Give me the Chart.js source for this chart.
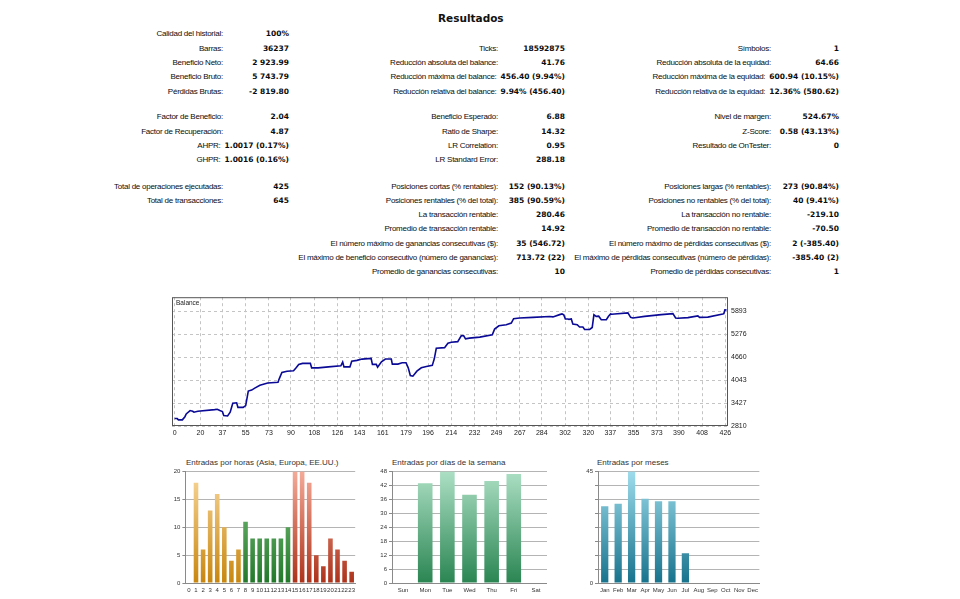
<!DOCTYPE html>
<html>
<head>
<meta charset="utf-8">
<script src="https://cdn.jsdelivr.net/npm/chart.js@4.4.1/dist/chart.umd.min.js"></script>
<style>
  body { margin: 0; width: 960px; height: 599px; overflow: hidden; position: relative; background: #fff; color: #111;
         font-family: "Liberation Sans", Arial, sans-serif; }
  #title { position: absolute; left: 438px; top: 12px; font: bold 10.5px "DejaVu Sans", sans-serif; }
  .col { position: absolute; top: 27.4px; }
  .row { height: 14.3px; line-height: 14.3px; text-align: right; white-space: nowrap; font-size: 8px; letter-spacing: -0.25px; color: #0c0c0c; }
  .gap1 { height: 11.5px; }
  .gap2 { height: 12px; }
  .row b { display: inline-block; text-align: right; margin-left: 4px; font: bold 7.5px "DejaVu Sans", sans-serif; letter-spacing: 0; }
  canvas { position: absolute; }
  .ctitle { position: absolute; top: 458px; font-size: 8px; color: #333; white-space: nowrap; }
  #balLabel { position: absolute; left: 176px; top: 299px; font-size: 6.5px; color: #222; }
</style>
</head>
<body>
<div id="title">Resultados</div>
<div class="col" id="c1" style="right:671px"></div>
<div class="col" id="c2" style="right:395px"></div>
<div class="col" id="c3" style="right:121px"></div>

<canvas id="bal" width="592" height="150" style="left:164px;top:290px"></canvas>
<div id="balLabel">Balance</div>

<div class="ctitle" style="left:186px">Entradas por horas (Asia, Europa, EE.UU.)</div>
<canvas id="hours" width="194" height="131" style="left:165px;top:466px"></canvas>
<div class="ctitle" style="left:392px">Entradas por días de la semana</div>
<canvas id="days" width="172" height="131" style="left:375px;top:466px"></canvas>
<div class="ctitle" style="left:597px">Entradas por meses</div>
<canvas id="months" width="197" height="131" style="left:565px;top:466px"></canvas>

<script>
// stats columns, null = empty row, "|" = block gap
const statsCol1 = [
  ["Calidad del historial:", "100%"], ["Barras:", "36237"], ["Beneficio Neto:", "2 923.99"],
  ["Beneficio Bruto:", "5 743.79"], ["Pérdidas Brutas:", "-2 819.80"], "|",
  ["Factor de Beneficio:", "2.04"], ["Factor de Recuperación:", "4.87"],
  ["AHPR:", "1.0017 (0.17%)"], ["GHPR:", "1.0016 (0.16%)"], "||",
  ["Total de operaciones ejecutadas:", "425"], ["Total de transacciones:", "645"],
];
const statsCol2 = [
  null, ["Ticks:", "18592875"], ["Reducción absoluta del balance:", "41.76"],
  ["Reducción máxima del balance:", "456.40 (9.94%)"], ["Reducción relativa del balance:", "9.94% (456.40)"], "|",
  ["Beneficio Esperado:", "6.88"], ["Ratio de Sharpe:", "14.32"],
  ["LR Correlation:", "0.95"], ["LR Standard Error:", "288.18"], "||",
  ["Posiciones cortas (% rentables):", "152 (90.13%)"], ["Posiciones rentables (% del total):", "385 (90.59%)"],
  ["La transacción rentable:", "280.46"], ["Promedio de transacción rentable:", "14.92"],
  ["El número máximo de ganancias consecutivas ($):", "35 (546.72)"],
  ["El máximo de beneficio consecutivo (número de ganancias):", "713.72 (22)"],
  ["Promedio de ganancias consecutivas:", "10"],
];
const statsCol3 = [
  null, ["Símbolos:", "1"], ["Reducción absoluta de la equidad:", "64.66"],
  ["Reducción máxima de la equidad:", "600.94 (10.15%)"], ["Reducción relativa de la equidad:", "12.36% (580.62)"], "|",
  ["Nivel de margen:", "524.67%"], ["Z-Score:", "0.58 (43.13%)"],
  ["Resultado de OnTester:", "0"], null, "||",
  ["Posiciones largas (% rentables):", "273 (90.84%)"], ["Posiciones no rentables (% del total):", "40 (9.41%)"],
  ["La transacción no rentable:", "-219.10"], ["Promedio de transacción no rentable:", "-70.50"],
  ["El número máximo de pérdidas consecutivas ($):", "2 (-385.40)"],
  ["El máximo de pérdidas consecutivas (número de pérdidas):", "-385.40 (2)"],
  ["Promedio de pérdidas consecutivas:", "1"],
];

// balance curve at its breakpoints
const balanceX = [0, 2, 3, 6, 8, 9, 12, 14, 15, 18, 31, 33, 35, 37, 38, 41, 43, 45, 48, 49, 53, 55, 57, 59.6, 62, 66, 72, 80,
  81, 83, 87, 92, 94, 96, 99, 105, 106, 111, 119, 128.6, 130, 131, 135.6, 137, 141, 145, 152, 153, 156, 157, 160, 163,
  167.6, 168.4, 172.7, 176, 179, 180.7, 182.3, 184.3, 187.4, 190.8, 194.7, 199.3, 200.8, 202.4, 208.8, 211.4, 214, 219,
  221.7, 223.5, 225, 228, 236, 245.7, 247.5, 250.8, 256.5, 260.4, 262.2, 266.8, 277, 290, 292.6, 297.8, 299.6, 301,
  302.2, 304, 305, 306.8, 308, 311.4, 313.2, 315.8, 317.1, 321, 323, 324.3, 326, 328, 330, 333.9, 335.6, 337.2, 338.2,
  340.3, 350.6, 352.7, 354.5, 363.5, 376.4, 385.4, 387.5, 389.2, 397, 404.7, 406, 412.4, 424, 424.8, 425.6, 426.9];
const balanceY = [3010, 3010, 2975, 2975, 3060, 3135, 3225, 3205, 3180, 3205, 3250, 3260, 3225, 3200, 3090, 3080, 3180, 3420,
  3435, 3310, 3310, 3360, 3750, 3777, 3830, 3905, 3965, 3985, 4085, 4250, 4285, 4295, 4375, 4465, 4495, 4495, 4375, 4375,
  4400, 4430, 4530, 4400, 4400, 4555, 4575, 4610, 4630, 4467, 4467, 4393, 4538, 4611, 4611, 4475, 4475, 4511, 4511, 4375,
  4168, 4150, 4285, 4375, 4412, 4440, 4611, 4901, 4918, 5037, 5064, 5080, 5235, 5243, 5154, 5173, 5200, 5262, 5417, 5507,
  5534, 5580, 5697, 5716, 5732, 5755, 5745, 5806, 5825, 5800, 5689, 5690, 5680, 5690, 5553, 5534, 5472, 5472, 5407, 5407,
  5461, 5806, 5760, 5765, 5670, 5670, 5760, 5825, 5815, 5825, 5852, 5732, 5716, 5760, 5806, 5833, 5716, 5710, 5725, 5770,
  5732, 5740, 5825, 5835, 5935, 5930];
const balanceXTicks = [0, 20, 37, 55, 73, 90, 108, 126, 143, 161, 179, 196, 214, 232, 249, 267, 284, 302, 320, 337, 355, 373, 390, 408, 426];
const balanceYTicks = [2810, 3427, 4043, 4660, 5276, 5893];

const hourLabels = ["0","1","2","3","4","5","6","7","8","9","10","11","12","13","14","15","16","17","18","19","20","21","22","23"];
const hourEntries = [0, 18, 6, 13, 16, 10, 4, 6, 11, 8, 8, 8, 8, 8, 10, 20, 20, 18, 5, 3, 8, 6, 4, 2];
const hourTicks = [0, 5, 10, 15, 20];

const dayLabels = ["Sun", "Mon", "Tue", "Wed", "Thu", "Fri", "Sat"];
const dayEntries = [0, 43, 48, 38, 44, 47, 0];
const dayTicks = [0, 6, 12, 18, 24, 30, 36, 42, 48];

const monthLabels = ["Jan", "Feb", "Mar", "Apr", "May", "Jun", "Jul", "Aug", "Sep", "Oct", "Nov", "Dec"];
const monthEntries = [31, 32, 45, 34, 33, 33, 12, 0, 0, 0, 0, 0];
const monthTicks = [0, 5.625, 11.25, 16.875, 22.5, 28.125, 33.75, 39.375, 45];
const monthShown = [0, 45];

function fillCol(id, rows) {
  const col = document.getElementById(id);
  const minW = { c1: 62, c2: 63, c3: 64 }[id];
  rows.forEach((r) => {
    const d = document.createElement("div");
    if (r === "|") d.className = "gap1";
    else if (r === "||") d.className = "gap2";
    else {
      d.className = "row";
      if (r) d.innerHTML = `${r[0]}<b style="min-width:${minW}px">${r[1]}</b>`;
    }
    col.appendChild(d);
  });
}
fillCol("c1", statsCol1);
fillCol("c2", statsCol2);
fillCol("c3", statsCol3);

const frame = {
  id: "frame",
  afterDraw(chart) {
    const a = chart.chartArea, ctx = chart.ctx;
    ctx.save();
    ctx.strokeStyle = "#555";
    ctx.lineWidth = 1;
    ctx.strokeRect(a.left + 0.5, a.top + 0.5, a.right - a.left - 1, a.bottom - a.top - 1);
    ctx.restore();
  },
};

const tickFont = { family: "Liberation Sans", size: 7 };

new Chart(document.getElementById("bal"), {
  type: "line",
  data: {
    datasets: [{
      data: balanceX.map((x, i) => ({ x, y: balanceY[i] })),
      borderColor: "#0a0a96",
      borderWidth: 1.6,
      pointRadius: 0,
      tension: 0,
    }],
  },
  options: {
    responsive: false,
    animation: false,
    layout: { padding: { left: 8, top: 4, right: 0, bottom: 0 } },
    plugins: { legend: { display: false }, tooltip: { enabled: false } },
    scales: {
      x: {
        type: "linear", min: -2, max: 428,
        afterBuildTicks: (s) => { s.ticks = balanceXTicks.map((v) => ({ value: v })); },
        afterFit: (s) => { s.height = 14; },
        ticks: { font: tickFont, color: "#222", padding: 3, maxRotation: 0, autoSkip: false, callback: (v) => String(v) },
        grid: { color: "#c4c4c4", drawTicks: false },
        border: { display: false, dash: [3, 3] },
      },
      y: {
        position: "right", min: 2810, max: 6275,
        afterBuildTicks: (s) => { s.ticks = balanceYTicks.map((v) => ({ value: v })); },
        afterFit: (s) => { s.width = 28; },
        ticks: { font: tickFont, color: "#222", padding: 3, callback: (v) => String(v) },
        grid: { color: "#c4c4c4", drawTicks: false },
        border: { display: false, dash: [3, 3] },
      },
    },
  },
  plugins: [frame],
});

function grad(top, bottom) {
  return (c) => {
    const a = c.chart.chartArea;
    if (!a) return bottom;
    const g = c.chart.ctx.createLinearGradient(0, a.top, 0, a.bottom);
    g.addColorStop(0, top);
    g.addColorStop(1, bottom);
    return g;
  };
}

function barChart(id, labels, data, colors, yMax, ticks, axisW, barPct, shown) {
  return new Chart(document.getElementById(id), {
    type: "bar",
    data: { labels, datasets: [{ data, backgroundColor: colors, barPercentage: barPct, categoryPercentage: 1 }] },
    options: {
      responsive: false,
      animation: false,
      layout: { padding: { top: 5, left: 0, right: 0, bottom: 0 } },
      plugins: { legend: { display: false }, tooltip: { enabled: false } },
      scales: {
        x: {
          afterFit: (s) => { s.height = 14; },
          ticks: { font: { family: "Liberation Sans", size: 6 }, color: "#333", padding: 4, maxRotation: 0, autoSkip: false },
          grid: { display: false, drawTicks: false },
          border: { display: true, color: "#8a8a8a" },
        },
        y: {
          min: 0, max: yMax,
          afterBuildTicks: (s) => { s.ticks = ticks.map((v) => ({ value: v })); },
          afterFit: (s) => { s.width = axisW; },
          ticks: {
            font: { family: "Liberation Sans", size: 6 }, color: "#333", padding: 2,
            callback: (v) => (shown && !shown.includes(v) ? "" : String(v)),
          },
          grid: { color: "#b4b4b4", tickLength: 3, tickColor: "#8a8a8a" },
          border: { display: true, color: "#8a8a8a" },
        },
      },
    },
  });
}

const asia = grad("#f8d79a", "#c8860e");
const europe = grad("#86c886", "#22782a");
const usa = grad("#f4aa98", "#ad321a");
const hourColors = (c) => (c.dataIndex < 8 ? asia(c) : c.dataIndex < 15 ? europe(c) : usa(c));

barChart("hours", hourLabels, hourEntries, hourColors, 20, hourTicks, 20.4, 0.65, null);
barChart("days", dayLabels, dayEntries, grad("#acdfc4", "#2a8552"), 48, dayTicks, 17, 0.66, null);
barChart("months", monthLabels, monthEntries, grad("#9edcec", "#17728c"), 45, monthTicks, 33, 0.54, monthShown);
</script>
</body>
</html>
